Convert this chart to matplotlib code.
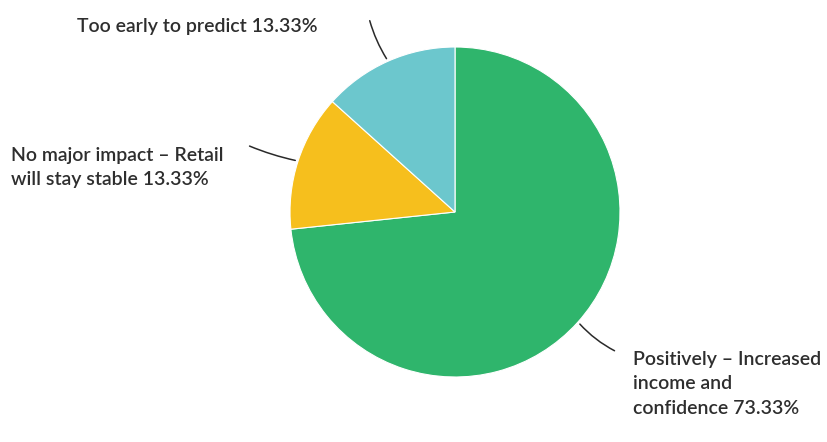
import matplotlib.pyplot as plt

labels = ['Positively – Increased\nincome and\nconfidence 73.33%',
          'No major impact – Retail\nwill stay stable 13.33%',
          'Too early to predict 13.33%']
shares = [73.33, 13.33, 13.33]
colors = ['#2fb56c', '#f6bf1d', '#6cc7cd']

plt.rcParams['font.family'] = ['Lato', 'DejaVu Sans']

fig = plt.figure(figsize=(8.27, 4.42), dpi=100)
ax = fig.add_axes([0, 0, 1, 1])

cx, cy, r = 455, 230, 165
ax.pie(shares, colors=colors, startangle=90, counterclock=False,
       center=(cx, cy), radius=r,
       wedgeprops=dict(edgecolor='white', linewidth=0.8))
ax.set_xlim(0, 827)
ax.set_ylim(0, 442)
ax.set_aspect('equal')
ax.axis('off')

txt = dict(fontsize=14, color='#2e2e2e', fontweight='semibold',
           linespacing=1.52, va='top', ha='left')
line = dict(arrowstyle='-', color='#2a2a2a', lw=1.1)

# label text anchors and leader-line start points
ax.annotate(labels[2], xy=(388, 381), xytext=(77, 424), **txt)
ax.annotate('', xy=(388, 381), xytext=(369, 424),
            arrowprops=dict(connectionstyle='arc3,rad=0.08', **line))

ax.annotate(labels[1], xy=(298, 281), xytext=(11, 295), **txt)
ax.annotate('', xy=(298, 281), xytext=(247, 297),
            arrowprops=dict(connectionstyle='arc3,rad=0.05', **line))

ax.annotate(labels[0], xy=(578, 120), xytext=(633, 91), **txt)
ax.annotate('', xy=(578, 120), xytext=(617, 90),
            arrowprops=dict(connectionstyle='arc3,rad=-0.1', **line))

fig.savefig('out.png', dpi=100, facecolor='white')
